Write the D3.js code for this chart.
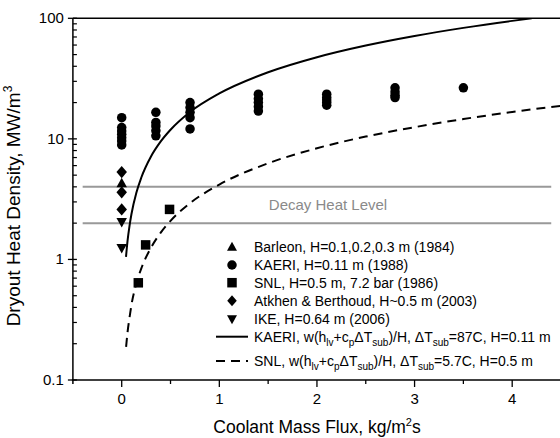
<!DOCTYPE html>
<html><head><meta charset="utf-8">
<script src="https://cdn.jsdelivr.net/npm/d3@7"></script>
<style>
html,body{margin:0;padding:0;background:#fff;}
svg{display:block;font-family:Arial,"Liberation Sans",sans-serif;}
</style></head>
<body>
<svg id="chart" width="560" height="438"></svg>
<script>
// ---- data ----
const xTicks = [0, 1, 2, 3, 4];
const yTicks = [0.1, 1, 10, 100];
const yTickLabels = ["0.1", "1", "10", "100"];
const barleon = [[0.0, 4.3]];
const kaeri = [
  [0,15],[0,12.4],[0,11.6],[0,10.9],[0,10.2],[0,9.6],[0,8.9],
  [0.35,16.6],[0.35,13.7],[0.35,12.8],[0.35,11.7],[0.35,10.6],
  [0.7,20],[0.7,18.2],[0.7,16.6],[0.7,15],[0.7,12.1],
  [1.4,23.5],[1.4,21.5],[1.4,20],[1.4,18.5],[1.4,17],
  [2.1,23.5],[2.1,22],[2.1,21],[2.1,20],[2.1,19],
  [2.8,26.5],[2.8,24.5],[2.8,23],[2.8,22],
  [3.5,26.5]
];
const snl = [[0.17,0.64],[0.245,1.32],[0.49,2.6]];
const atkhen = [[0,5.3],[0,3.6],[0,2.6]];
const ike = [[0,2.03],[0,1.24]];
const kaeriCurveW = [0.044,0.06,0.08,0.1,0.15,0.2,0.3,0.4,0.5,0.7,1,1.5,2,2.5,3,3.5,4,4.2];
const kaeriCurveQ = [1.05,1.43,1.9,2.38,3.57,4.76,7.14,9.52,11.9,16.7,23.8,35.7,47.6,59.5,71.4,83.3,95.2,100];
const snlCurveW = [0.045,0.06,0.08,0.1,0.15,0.2,0.3,0.4,0.5,0.7,1,1.5,2,2.5,3,3.5,4,4.5];
const snlCurveQ = [0.188,0.25,0.33,0.42,0.63,0.84,1.25,1.67,2.09,2.93,4.18,6.27,8.36,10.45,12.5,14.6,16.7,18.8];
const decayLevels = [4, 2];
const decayX = [-0.4, 4.4];

// ---- layout ----
const svg = d3.select("#chart");
const x = d3.scaleLinear().domain([-0.5, 4.5]).range([72.9, 561]);
const y = d3.scaleLog().domain([0.1, 100]).range([380, 18.3]);
const L = 72.9, R = 561, T = 18.3, B = 380;

const defs = svg.append("defs");
defs.append("clipPath").attr("id","clip").append("rect")
  .attr("x", L).attr("y", T).attr("width", R-L).attr("height", B-T);

// decay lines
svg.append("g").selectAll("line").data(decayLevels).join("line")
  .attr("x1", x(decayX[0])).attr("x2", x(decayX[1]))
  .attr("y1", d => y(d)).attr("y2", d => y(d))
  .attr("stroke", "#999").attr("stroke-width", 2);
svg.append("text").attr("x", 328).attr("y", (y(4)+y(2))/2 + 5.5)
  .attr("text-anchor","middle").attr("font-size", 15).attr("fill", "#8a8a8a")
  .text("Decay Heat Level");

// curves
const line = d3.line().x(d => x(d[0])).y(d => y(d[1])).curve(d3.curveMonotoneX);
const g = svg.append("g").attr("clip-path","url(#clip)");
g.append("path").datum(kaeriCurveW.map((w,i)=>[w,kaeriCurveQ[i]]))
  .attr("d", line).attr("fill","none").attr("stroke","#000").attr("stroke-width",2);
g.append("path").datum(snlCurveW.map((w,i)=>[w,snlCurveQ[i]]))
  .attr("d", line).attr("fill","none").attr("stroke","#000").attr("stroke-width",2)
  .attr("stroke-dasharray","9,6");

// symbols
function sym(type, s) {
  const h = s/2;
  switch(type){
    case "circle": return `M${-h},0A${h},${h} 0 1,0 ${h},0A${h},${h} 0 1,0 ${-h},0Z`;
    case "square": return `M${-h},${-h}H${h}V${h}H${-h}Z`;
    case "diamond": return `M0,${-h*1.15}L${h},0L0,${h*1.15}L${-h},0Z`;
    case "up": return `M0,${-h*1.05}L${h*1.05},${h*0.85}L${-h*1.05},${h*0.85}Z`;
    case "down": return `M0,${h*1.05}L${h*1.05},${-h*0.85}L${-h*1.05},${-h*0.85}Z`;
  }
}
const sets = [
  {data: kaeri, type: "circle", size: 9.5},
  {data: atkhen, type: "diamond", size: 10.5},
  {data: barleon, type: "up", size: 10},
  {data: ike, type: "down", size: 10},
  {data: snl, type: "square", size: 9.5}
];
sets.forEach(s => {
  svg.append("g").selectAll("path").data(s.data).join("path")
    .attr("transform", d => `translate(${x(d[0])},${y(d[1])})`)
    .attr("d", sym(s.type, s.size)).attr("fill","#000");
});

// frame / axes
svg.append("line").attr("x1",L).attr("x2",R).attr("y1",T).attr("y2",T).attr("stroke","#000").attr("stroke-width",1.5);
svg.append("line").attr("x1",L).attr("x2",L).attr("y1",T).attr("y2",B+4).attr("stroke","#000").attr("stroke-width",1.5);
svg.append("line").attr("x1",L-1).attr("x2",R).attr("y1",B).attr("y2",B).attr("stroke","#000").attr("stroke-width",1.5);

// x ticks
const xMinor = d3.range(-0.5, 4.51, 0.5).filter(v => Math.abs(v - Math.round(v)) > 0.1 && v > -0.4);
svg.append("g").selectAll("line").data(xTicks).join("line")
  .attr("x1", d=>x(d)).attr("x2", d=>x(d)).attr("y1", B).attr("y2", B+7)
  .attr("stroke","#000").attr("stroke-width",1.3);
svg.append("g").selectAll("line").data(xMinor).join("line")
  .attr("x1", d=>x(d)).attr("x2", d=>x(d)).attr("y1", B).attr("y2", B+4)
  .attr("stroke","#000").attr("stroke-width",1.3);
svg.append("g").selectAll("text").data(xTicks).join("text")
  .attr("x", d=>x(d)).attr("y", B+24).attr("text-anchor","middle")
  .attr("font-size", 15).text(d=>d);

// y ticks
const yMinor = [];
[0.1,1,10].forEach(dec => { for (let k=2;k<=9;k++) yMinor.push(dec*k); });
svg.append("g").selectAll("line").data(yTicks).join("line")
  .attr("x1", L-5).attr("x2", L+4).attr("y1", d=>y(d)).attr("y2", d=>y(d))
  .attr("stroke","#000").attr("stroke-width",1.3);
svg.append("g").selectAll("line").data(yMinor).join("line")
  .attr("x1", L).attr("x2", L+4).attr("y1", d=>y(d)).attr("y2", d=>y(d))
  .attr("stroke","#000").attr("stroke-width",1.2);
svg.append("g").selectAll("text").data(yTicks).join("text")
  .attr("x", L-9).attr("y", d=>y(d)+5).attr("text-anchor","end")
  .attr("font-size", 15).text((d,i)=>yTickLabels[i]);

// axis titles
const xt = svg.append("text").attr("x", 317).attr("y", 433).attr("text-anchor","middle").attr("font-size", 17.5);
xt.append("tspan").text("Coolant Mass Flux, kg/m");
xt.append("tspan").attr("font-size", 11).attr("dy", -7).text("2");
xt.append("tspan").attr("dy", 7).text("s");

const yt = svg.append("text").attr("transform","translate(20,206) rotate(-90)").attr("text-anchor","middle").attr("font-size", 19);
yt.append("tspan").text("Dryout Heat Density, MW/m");
yt.append("tspan").attr("font-size", 12).attr("dy", -8).text("3");

// legend
const legX = 232, txtX = 254, fs = 14;
const legRows = [
  {type:"up", y:246.7, label:"Barleon, H=0.1,0.2,0.3 m (1984)"},
  {type:"circle", y:265, label:"KAERI, H=0.11 m (1988)"},
  {type:"square", y:282.7, label:"SNL, H=0.5 m, 7.2 bar (1986)"},
  {type:"diamond", y:300.7, label:"Atkhen & Berthoud, H~0.5 m (2003)"},
  {type:"down", y:319.3, label:"IKE, H=0.64 m (2006)"}
];
const leg = svg.append("g");
legRows.forEach(r => {
  leg.append("path").attr("transform",`translate(${legX},${r.y})`).attr("d", sym(r.type, 9.5)).attr("fill","#000");
  leg.append("text").attr("x", txtX).attr("y", r.y+5).attr("font-size", fs).text(r.label);
});
// line legend entries
leg.append("line").attr("x1",216).attr("x2",248).attr("y1",336.7).attr("y2",336.7).attr("stroke","#000").attr("stroke-width",2);
leg.append("line").attr("x1",216).attr("x2",248).attr("y1",361).attr("y2",361).attr("stroke","#000").attr("stroke-width",2).attr("stroke-dasharray","9,6");

function eqText(yy, pre, dT, H) {
  const t = leg.append("text").attr("x", txtX).attr("y", yy).attr("font-size", fs);
  const sub = (s) => { t.append("tspan").attr("font-size", 10).attr("dy", 4).text(s); };
  const norm = (s) => { t.append("tspan").attr("dy", -4).text(s); };
  t.append("tspan").text(pre + ", w(h");
  sub("lv"); norm("+c"); sub("p"); norm("\u0394T"); sub("sub"); norm(")/H, \u0394T"); sub("sub"); norm("=" + dT + ", H=" + H);
}
eqText(336.7+5, "KAERI", "87C", "0.11 m");
eqText(361+5, "SNL", "5.7C", "0.5 m");
</script>
</body></html>
